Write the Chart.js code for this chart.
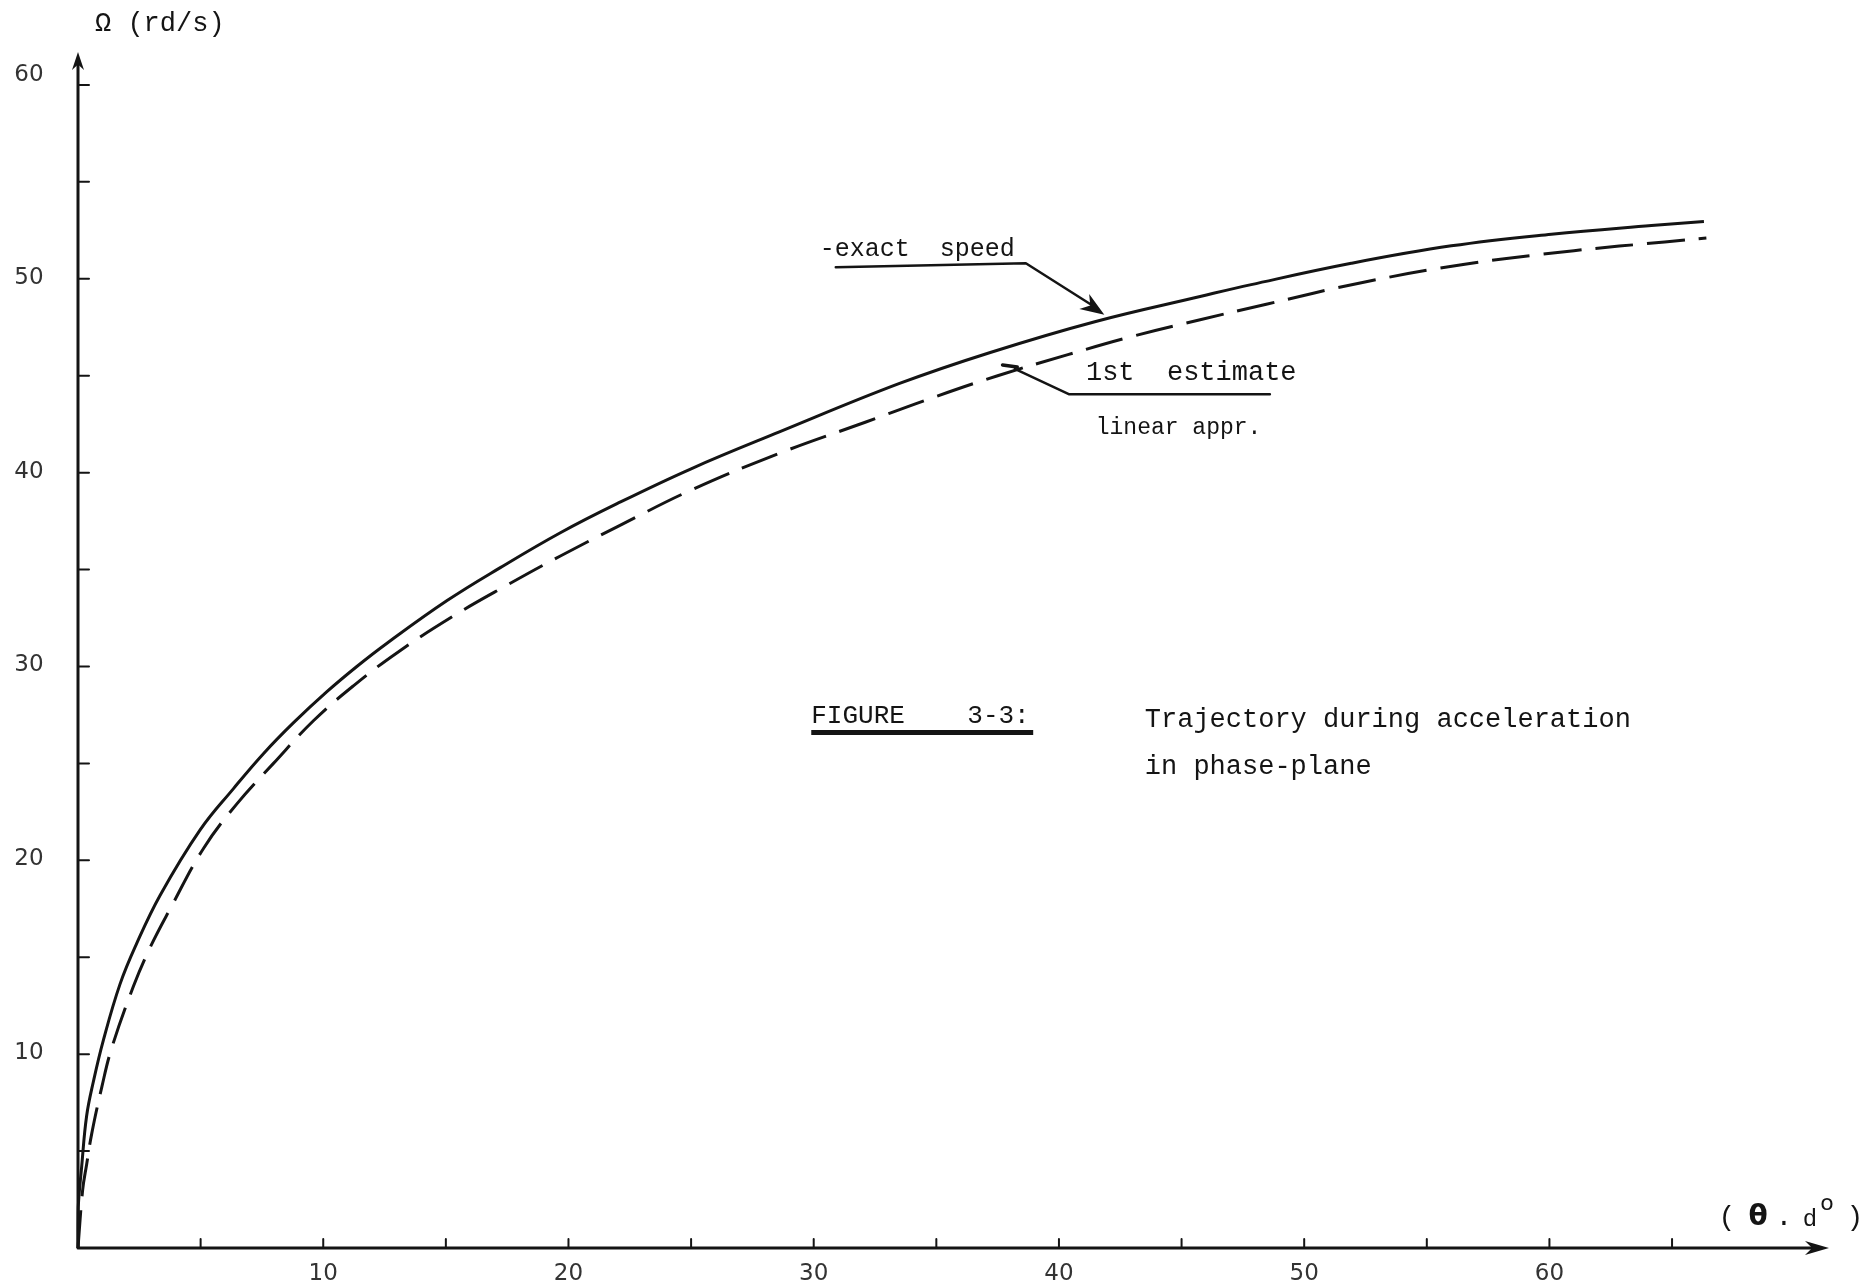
<!DOCTYPE html>
<html lang="en">
<head>
<meta charset="UTF-8">
<title>Figure 3-3: Trajectory during acceleration in phase-plane</title>
<script src="https://cdn.jsdelivr.net/npm/chart.js"></script>
<style>
  html, body { margin: 0; padding: 0; background: #fff; }
  canvas { display: block; }
</style>
</head>
<body>

<canvas id="myChart" width="1868" height="1287"></canvas>

<script>
// exact speed (solid curve), theta in degrees, omega in rd/s
const exactTheta = [0, 0.01, 0.15, 0.35, 0.63, 1.03, 1.71, 2.39, 3.35, 4.98, 6.34, 7.56, 8.79, 10.15, 11.37, 12.6,
  15.05, 17.22, 19.67, 21.98, 25, 28.6, 33.5, 37.2, 41.5, 45.8, 47.84, 51.92, 56.0, 60.08, 64.16, 66.3];
const exactOmega = [0, 2.1, 4.2, 6.8, 8.6, 10.7, 13.6, 15.7, 18.2, 21.57, 23.7, 25.5, 27.1, 28.7, 30.0, 31.2,
  33.4, 35.1, 36.9, 38.4, 40.2, 42.1, 44.6, 46.2, 47.8, 49.1, 49.7, 50.8, 51.7, 52.3, 52.75, 52.96];

// 1st estimate, linear approximation (dashed curve)
const estTheta = [0, 0.19, 0.35, 0.56, 0.97, 1.37, 2.26, 2.94, 3.76, 5.11, 6.47, 7.97, 9.6, 11.23, 13.0, 15.3,
  17.5, 19.67, 21.98, 25, 28.6, 32.1, 34.7, 37.5, 40.4, 42.9, 45.8, 48.5, 52.33, 56.55, 61.0, 64.7, 66.4];
const estOmega = [0, 3.0, 4.3, 5.9, 8.3, 10.3, 13.5, 15.5, 17.5, 20.6, 22.9, 25.0, 27.2, 29.0, 30.7, 32.6,
  34.2, 35.7, 37.2, 39.1, 41.0, 42.6, 43.8, 45.0, 46.1, 47.0, 47.9, 48.7, 49.8, 50.75, 51.45, 51.9, 52.1];

// axis ticks and labels
const xTickValues = [5, 10, 15, 20, 25, 30, 35, 40, 45, 50, 55, 60, 65];
const xTickLabels = ['10', '20', '30', '40', '50', '60'];
const yTickValues = [5, 10, 15, 20, 25, 30, 35, 40, 45, 50, 55, 60];
const yTickLabels = ['10', '20', '30', '40', '50', '60'];

const xMax = 71.4;
const yMax = 61.7;

const ink = '#141414';
const typeFont = '"Liberation Mono", "DejaVu Sans Mono", monospace';

function toPoints(xs, ys) {
    return xs.map((v, i) => ({ x: v, y: ys[i] }));
}

function arrowHead(ctx, tipX, tipY, angle, len, half) {
    ctx.save();
    ctx.translate(tipX, tipY);
    ctx.rotate(angle);
    ctx.beginPath();
    ctx.moveTo(0, 0);
    ctx.lineTo(-len, -half);
    ctx.lineTo(-len * 0.7, 0);
    ctx.lineTo(-len, half);
    ctx.closePath();
    ctx.fill();
    ctx.restore();
}

// hand drawn style axes, ticks and typed annotations
const paperPlugin = {
    id: 'paper',
    beforeDatasetsDraw(chart) {
        const { ctx, chartArea: a, scales: { x, y } } = chart;
        const x0 = x.getPixelForValue(0);
        const y0 = y.getPixelForValue(0);
        ctx.save();
        ctx.strokeStyle = ink;
        ctx.fillStyle = ink;
        ctx.lineCap = 'round';

        // axes
        ctx.lineWidth = 3;
        ctx.beginPath();
        ctx.moveTo(x0, y0);
        ctx.lineTo(x0, a.top + 10);
        ctx.moveTo(x0, y0);
        ctx.lineTo(a.right - 12, y0);
        ctx.stroke();
        arrowHead(ctx, x0, a.top, -Math.PI / 2, 18, 6);
        arrowHead(ctx, a.right, y0, 0, 24, 7);

        // ticks
        ctx.lineWidth = 2;
        ctx.beginPath();
        yTickValues.forEach(v => {
            const py = y.getPixelForValue(v);
            ctx.moveTo(x0, py);
            ctx.lineTo(x0 + 11, py);
        });
        xTickValues.forEach(v => {
            const px = x.getPixelForValue(v);
            ctx.moveTo(px, y0);
            ctx.lineTo(px, y0 - 9);
        });
        ctx.stroke();

        // tick labels
        ctx.fillStyle = '#333';
        ctx.font = '23px "DejaVu Sans", sans-serif';
        ctx.textAlign = 'center';
        ctx.textBaseline = 'middle';
        yTickLabels.forEach(t => {
            const v = Number(t);
            ctx.fillText(t, 29, y.getPixelForValue(v) - (v === 60 ? 10 : 1));
        });
        xTickLabels.forEach(t => {
            ctx.fillText(t, x.getPixelForValue(Number(t)), y0 + 26);
        });

        // axis titles
        ctx.fillStyle = ink;
        ctx.textAlign = 'left';
        ctx.font = '27px ' + typeFont;
        ctx.fillText('\u03A9 (rd/s)', x0 + 17, a.top - 28);

        const ty = y0 - 30;
        const tx = a.right - 10;
        ctx.textAlign = 'center';
        ctx.font = '28px ' + typeFont;
        ctx.fillText('(', tx - 92, ty);
        ctx.fillText(')', tx + 36, ty);
        ctx.fillText('.', tx - 35, ty);
        ctx.font = 'bold 28px "DejaVu Sans", sans-serif';
        ctx.fillText('\u03B8', tx - 61, ty);
        ctx.font = '24px ' + typeFont;
        ctx.fillText('d', tx - 9, ty + 2);
        ctx.font = '22px "DejaVu Sans", sans-serif';
        ctx.fillText('o', tx + 8, ty - 14);
        ctx.restore();
    },
    afterDatasetsDraw(chart) {
        const { ctx, scales: { x, y } } = chart;
        const px = v => x.getPixelForValue(v);
        const py = v => y.getPixelForValue(v);
        ctx.save();
        ctx.strokeStyle = ink;
        ctx.fillStyle = ink;
        ctx.lineWidth = 2.5;
        ctx.lineJoin = 'round';
        ctx.lineCap = 'round';

        // "exact speed" leader with arrow
        ctx.beginPath();
        ctx.moveTo(px(30.9), py(50.6));
        ctx.lineTo(px(38.65), py(50.8));
        ctx.lineTo(px(41.4), py(48.6));
        ctx.stroke();
        const ang1 = Math.atan2(py(48.15) - py(50.8), px(41.85) - px(38.65));
        arrowHead(ctx, px(41.85), py(48.15), ang1, 24, 9);

        // "1st estimate" leader
        ctx.beginPath();
        ctx.moveTo(px(48.6), py(44.05));
        ctx.lineTo(px(40.4), py(44.05));
        ctx.lineTo(px(38.2), py(45.35));
        ctx.stroke();
        ctx.lineWidth = 3.5;
        ctx.beginPath();
        ctx.moveTo(px(38.3), py(45.45));
        ctx.lineTo(px(37.7), py(45.55));
        ctx.stroke();

        // typed labels
        ctx.textAlign = 'left';
        ctx.textBaseline = 'middle';
        ctx.font = '25px ' + typeFont;
        ctx.fillText('-exact  speed', px(30.25), py(51.5));
        ctx.font = '27px ' + typeFont;
        ctx.fillText('1st  estimate', px(41.1), py(45.15));
        ctx.font = '23px ' + typeFont;
        ctx.fillText('linear appr.', px(41.5), py(42.3));

        // figure caption
        ctx.font = '26px ' + typeFont;
        ctx.fillText('FIGURE    3-3:', px(29.9), py(27.45));
        ctx.font = '27px ' + typeFont;
        ctx.fillText('Trajectory during acceleration', px(43.5), py(27.25));
        ctx.fillText('in phase-plane', px(43.5), py(24.8));
        ctx.lineWidth = 5;
        ctx.lineCap = 'butt';
        ctx.beginPath();
        ctx.moveTo(px(29.9), py(26.6));
        ctx.lineTo(px(38.95), py(26.6));
        ctx.stroke();
        ctx.restore();
    }
};

const ctx = document.getElementById('myChart').getContext('2d');

const myChart = new Chart(ctx, {
    type: 'scatter',
    data: {
        datasets: [
            {
                label: 'exact speed',
                data: toPoints(exactTheta, exactOmega),
                showLine: true,
                borderColor: ink,
                borderWidth: 3,
                pointRadius: 0,
                tension: 0.4,
                clip: false
            },
            {
                label: '1st estimate linear appr.',
                data: toPoints(estTheta, estOmega),
                showLine: true,
                borderColor: ink,
                borderWidth: 3,
                borderDash: [38, 14],
                pointRadius: 0,
                tension: 0.4,
                clip: false
            }
        ]
    },
    options: {
        responsive: false,
        animation: false,
        devicePixelRatio: 1,
        layout: { padding: { left: 78, right: 39, top: 52, bottom: 39 } },
        scales: {
            x: { type: 'linear', min: 0, max: xMax, display: false },
            y: { type: 'linear', min: 0, max: yMax, display: false }
        },
        plugins: {
            legend: { display: false },
            tooltip: { enabled: false }
        }
    },
    plugins: [paperPlugin]
});
</script>

</body>
</html>
